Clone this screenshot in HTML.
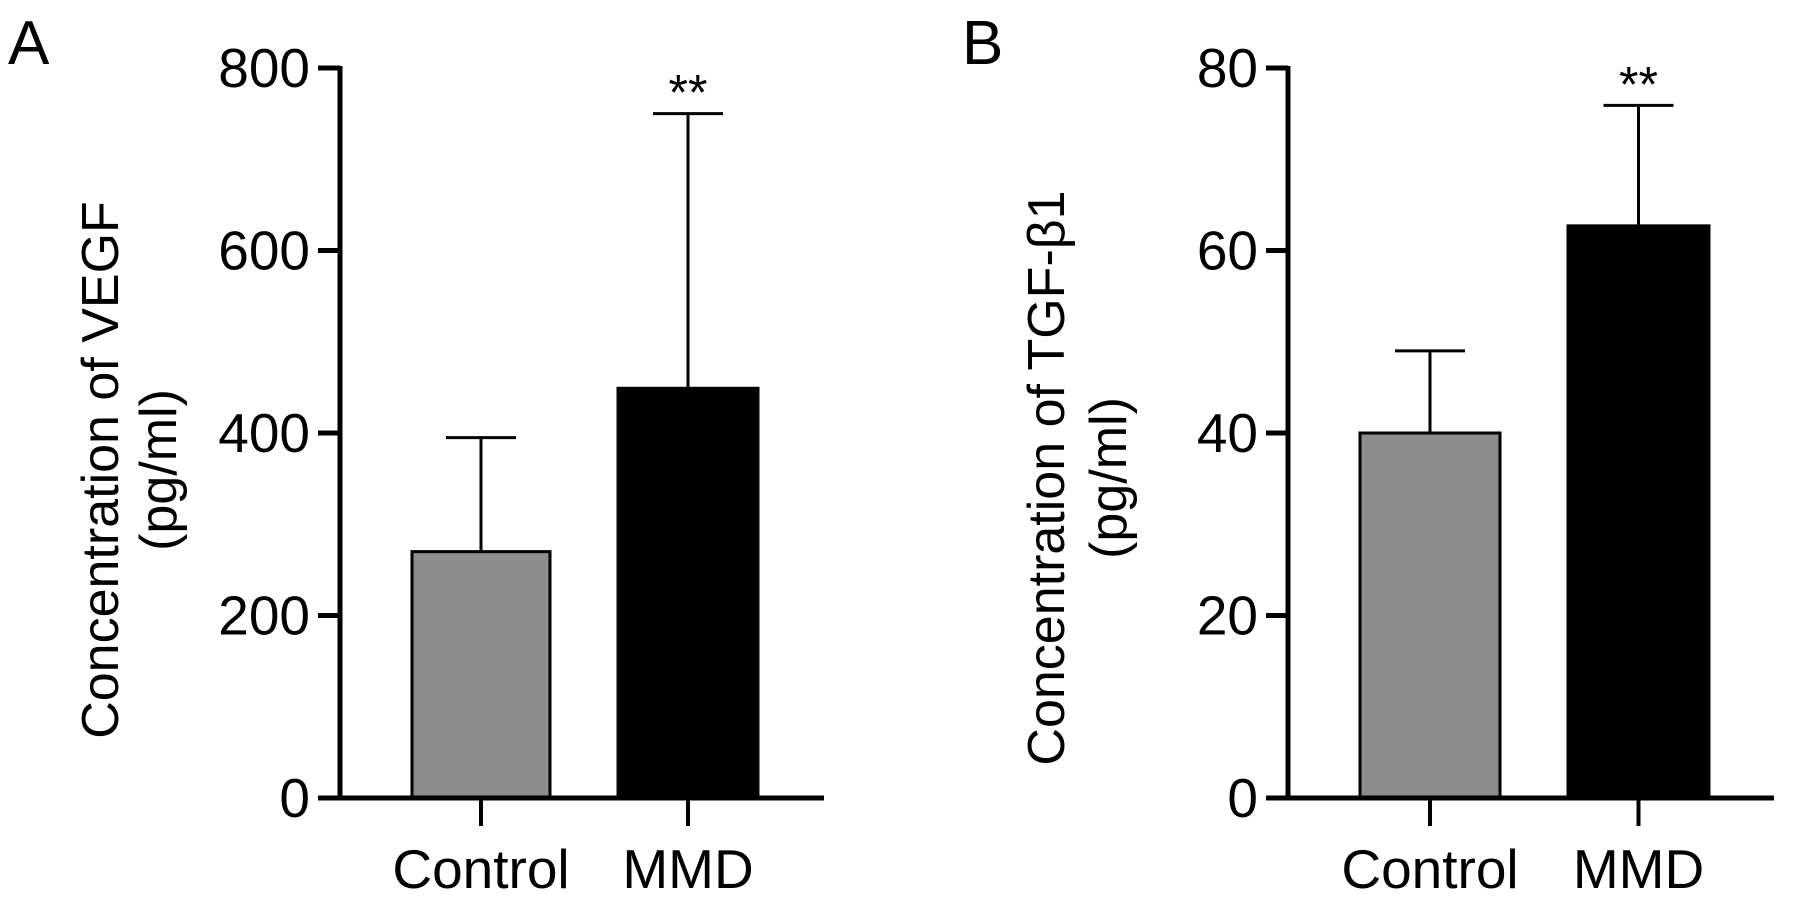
<!DOCTYPE html>
<html><head><meta charset="utf-8"><style>
html,body{margin:0;padding:0;background:#fff;}
svg{display:block;font-family:"Liberation Sans",sans-serif;}
</style></head><body>
<svg id="chart" width="1795" height="913" viewBox="0 0 1795 913"></svg>
<script>
const categories = ["Control", "MMD"];
const vegfMeans = [270, 449];
const vegfErrors = [125, 301];
const vegfTicks = [0, 200, 400, 600, 800];
const tgfMeans = [40, 62.7];
const tgfErrors = [9, 13.2];
const tgfTicks = [0, 20, 40, 60, 80];
const stars = ["**", "**"];

const NS = "http://www.w3.org/2000/svg";
const svg = document.getElementById("chart");
function mk(tag, attrs, parent){
  const e = document.createElementNS(NS, tag);
  for (const k in attrs) e.setAttribute(k, attrs[k]);
  (parent || svg).appendChild(e);
  return e;
}
const panels = [
  {letter:"A", lx:8, axisX:340, xEnd:824, barX:[412,618], barW:[138,140], means:vegfMeans, errs:vegfErrors, ticks:vegfTicks, max:800,
   title1:"Concentration of VEGF", tx1:118, tx2:176, cy:470, name:"vegf"},
  {letter:"B", lx:962, axisX:1288, xEnd:1774, barX:[1360,1568], barW:[140,141], means:tgfMeans, errs:tgfErrors, ticks:tgfTicks, max:80,
   title1:"Concentration of TGF-β1", tx1:1064, tx2:1126, cy:478, name:"tgf"}
];
const y0 = 798, yTop = 68;
panels.forEach((p, pi) => {
  const g = mk("g", {});
  
  
  const y = v => y0 - (v / p.max) * (y0 - yTop);
  const letter = mk("text", {x:p.lx, y:64, "font-size":62}, g);
  letter.textContent = p.letter;
  
  
  p.means.forEach((m, i) => {
    const bx = p.barX[i], bw = p.barW[i], cx = bx + bw / 2;
    const eb = mk("line", {x1:cx, x2:cx, y1:y(m), y2:y(m + p.errs[i]), stroke:"#000", "stroke-width":3}, g);
    
    
    const cap = mk("line", {x1:cx - 35, x2:cx + 35, y1:y(m + p.errs[i]), y2:y(m + p.errs[i]), stroke:"#000", "stroke-width":3}, g);
    
    
    const r = mk("rect", {x:bx, y:y(m), width:bw, height:y0 - y(m), fill:i === 0 ? "#8c8c8c" : "#000", stroke:"#000", "stroke-width":3}, g);
    
    
    const t = mk("line", {x1:cx, x2:cx, y1:y0, y2:826, stroke:"#000", "stroke-width":4}, g);
    
    
    const lbl = mk("text", {x:cx, y:888, "font-size":55, "text-anchor":"middle"}, g);
    lbl.textContent = categories[i];
    
    
    if (i === 1) {
      const s = mk("text", {x:cx, y:y(m + p.errs[i]) - 4, "font-size":50, "text-anchor":"middle"}, g);
      s.textContent = stars[pi];
      
      
    }
  });
  const ya = mk("line", {x1:p.axisX, x2:p.axisX, y1:yTop - 2, y2:y0 + 2, stroke:"#000", "stroke-width":5}, g);
  
  
  const xa = mk("line", {x1:p.axisX - 2, x2:p.xEnd, y1:y0, y2:y0, stroke:"#000", "stroke-width":5}, g);
  
  
  p.ticks.forEach(v => {
    const tk = mk("line", {x1:p.axisX - 22, x2:p.axisX, y1:y(v), y2:y(v), stroke:"#000", "stroke-width":5}, g);
    
    
    const tl = mk("text", {x:p.axisX - 30, y:y(v) + 19, "font-size":55, "text-anchor":"end"}, g);
    tl.textContent = v;
    
    
  });
  const cy = p.cy;
  const t1 = mk("text", {x:p.tx1, y:cy, "font-size":52, "text-anchor":"middle", transform:`rotate(-90 ${p.tx1} ${cy})`}, g);
  t1.textContent = p.title1;
  
  
  const t2 = mk("text", {x:p.tx2, y:cy, "font-size":52, "text-anchor":"middle", transform:`rotate(-90 ${p.tx2} ${cy})`}, g);
  t2.textContent = "(pg/ml)";
  
  
});
</script>
</body></html>
